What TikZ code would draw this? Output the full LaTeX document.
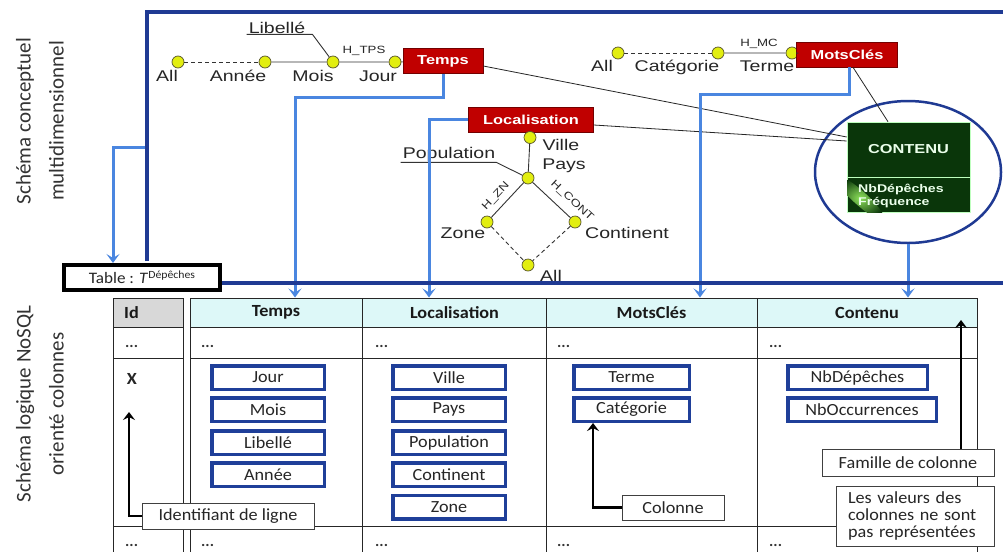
\documentclass[tikz,border=0pt]{standalone}
\usepackage{fontspec}
\setmainfont{Carlito}
\newfontfamily\arialw[FakeStretch=1.26]{Liberation Sans}
\newfontfamily\tabf[FakeStretch=1.07]{Carlito}
\usetikzlibrary{arrows.meta,shapes.geometric}

\definecolor{frameblue}{HTML}{1F3A93}
\definecolor{linkblue}{HTML}{4A86E0}
\definecolor{dimred}{HTML}{C00000}
\definecolor{factgreen}{HTML}{0A360A}
\definecolor{levelyellow}{HTML}{E2EE10}
\definecolor{headcyan}{HTML}{DDF8F8}
\definecolor{idgray}{HTML}{D8D8D8}
\definecolor{attrblue}{HTML}{1F3F99}
\definecolor{glow}{HTML}{8CE05A}

\tikzset{
  frame/.style={draw=frameblue, line width=3.5pt},
  link/.style={draw=linkblue, line width=3pt, -{Stealth[length=9pt,width=13pt,inset=4pt]}},
  hline/.style={draw=black!80, line width=0.9pt},
  hdash/.style={hline, dash pattern=on 4pt off 3pt},
  level/.style={circle, draw=black!50!olive, fill=levelyellow, line width=0.7pt, minimum size=12pt, inner sep=0pt},
  lbl/.style={font=\arialw\fontsize{15.5}{18}\selectfont, text=black!85, inner sep=1pt},
  hlab/.style={font=\arialw\fontsize{10.5}{12}\selectfont, text=black!85, inner sep=0pt},
  dimbox/.style={fill=dimred, draw=dimred!60!black, line width=0.6pt, text=white,
    font=\arialw\bfseries\fontsize{13}{14}\selectfont, minimum height=25pt, inner sep=0pt},
  grid/.style={draw=black!85, line width=1pt},
  colhead/.style={draw=black!85, line width=1pt, fill=headcyan, minimum height=29pt, inner sep=0pt,
    font=\tabf\bfseries\fontsize{17}{20}\selectfont, text=black!90},
  attr/.style={draw=attrblue, line width=3.5pt, fill=white, inner sep=0pt, minimum height=23.5pt,
    font=\tabf\fontsize{17}{20}\selectfont, text=black!85},
  note/.style={draw=black!75, line width=1pt, fill=white, inner sep=0pt,
    font=\tabf\fontsize{17}{20}\selectfont, text=black!85},
  notearrow/.style={draw=black, line width=2.5pt, -{Stealth[length=8pt,width=12pt,inset=3pt]}},
  dots/.style={font=\tabf\bfseries\fontsize{15}{16}\selectfont, text=black!80, inner sep=0pt, anchor=west},
  side/.style={font=\fontsize{21}{33}\selectfont, text=black!80, rotate=90, align=center}
}

\begin{document}
\begin{tikzpicture}[x=1pt,y=-1pt]
\useasboundingbox (0,0) rectangle (1003,552);
\fill[white] (0,0) rectangle (1003,552);

% side titles
\node[side] (titleTop) at (40,121) {Schéma conceptuel\\multidimensionnel};
\node[side] (titleBottom) at (40,404) {Schéma logique NoSQL\\orienté colonnes};

% ---------- conceptual schema ----------
% Temps hierarchy
\node[level] (tAll) at (178,62) {};
\node[level] (tAnnee) at (265,62) {};
\node[level] (tMois) at (333,62) {};
\node[level] (tJour) at (395,62) {};
\node[dimbox, minimum width=80pt] (temps) at (443,61) {Temps};
\draw[hdash] (tAll) -- (tAnnee);
\draw[hline] (tAnnee) -- (tMois) -- (tJour) -- (temps);
\node[lbl, anchor=base] (lbAll) at (167,81) {All};
\node[lbl, anchor=base] (lbAnnee) at (238,81) {Année};
\node[lbl, anchor=base] (lbMois) at (313,81) {Mois};
\node[lbl, anchor=base] (lbJour) at (378,81) {Jour};
\node[lbl, anchor=base] (libelle) at (277,33) {Libellé};
\draw[hline] ([xshift=-1pt]libelle.south west) -- ([xshift=6pt]libelle.south east) -- (tMois);
\node[hlab] (htps) at (364,51) {H\_TPS};

% MotsClés hierarchy
\node[level] (mAll) at (618,53) {};
\node[level] (mCat) at (718,53) {};
\node[level] (mTerme) at (792,53) {};
\node[dimbox, minimum width=101pt] (motscles) at (847,54.5) {MotsClés};
\draw[hdash] (mAll) -- (mCat);
\draw[hline] (mCat) -- (mTerme) -- (motscles);
\node[lbl, anchor=base] (lbmAll) at (602,71) {All};
\node[lbl, anchor=base] (lbCat) at (677,71) {Catégorie};
\node[lbl, anchor=base] (lbTerme) at (767,71) {Terme};
\node[hlab] (hmc) at (759,44) {H\_MC};

% Localisation hierarchy
\node[dimbox, minimum width=125pt] (loc) at (531,119.5) {Localisation};
\node[level] (lVille) at (530,137.5) {};
\node[level] (lPays) at (528,178) {};
\node[level] (lZone) at (487,222) {};
\node[level] (lCont) at (575,222) {};
\node[level] (lAll) at (528,265) {};
\draw[hline] (lVille) -- (lPays);
\draw[hline] (lPays) -- (lZone);
\draw[hline] (lPays) -- (lCont);
\draw[hdash] (lZone) -- (lAll);
\draw[hdash] (lCont) -- (lAll);
\node[lbl, anchor=base] (lbVille) at (561,150) {Ville};
\node[lbl, anchor=base] (lbPays) at (564,169) {Pays};
\node[lbl, anchor=base] (population) at (449,158) {Population};
\draw[hline] ([xshift=-1pt]population.south west) -- (population.south east) -- (lPays);
\node[lbl, anchor=base] (lbZone) at (463,238) {Zone};
\node[lbl, anchor=base] (lbCont) at (627,238) {Continent};
\node[lbl, anchor=base] (lblAll) at (551,281) {All};
\node[hlab, rotate=47] (hzn) at (496,196) {H\_ZN};
\node[hlab, rotate=-43] (hcont) at (572,201) {H\_CONT};

% fact
\node[draw=frameblue, line width=2.5pt, ellipse, minimum width=186pt, minimum height=142pt, inner sep=0pt] (factCircle) at (908,172) {};
\node[fill=factgreen, draw=white!75!green, line width=0.6pt, minimum width=123pt, minimum height=55pt, inner sep=0pt,
  text=white!92!green, font=\arialw\bfseries\fontsize{13}{14}\selectfont] (contenu) at (908.5,149.5) {CONTENU};
\node[fill=factgreen, draw=white!75!green, line width=0.6pt, minimum width=123pt, minimum height=35pt, inner sep=0pt] (measures) at (908.5,195) {};
\begin{scope}
  \clip (847.5,177.5) rectangle (969.5,212.5);
  \shade[inner color=glow, outer color=factgreen, rotate around={-42:(860,198)}] (860,198) ellipse [x radius=32, y radius=7];
\end{scope}
\node[anchor=west, align=left, inner sep=0pt, text=white!92!green,
  font=\arialw\bfseries\fontsize{11.2}{13}\selectfont] (measuresText) at (858,196) {NbDépêches\\Fréquence};

% links from dimensions to fact
\draw[black!85, line width=0.8pt] ([yshift=-5pt]temps.east) -- ([yshift=12.5pt]contenu.west);
\draw[black!85, line width=0.8pt] ([yshift=-5.5pt]loc.east) -- ([yshift=8.5pt]contenu.west);
\draw[black!85, line width=0.8pt] ([xshift=6pt]motscles.south) -- ([xshift=-20.5pt]contenu.north);

% ---------- column-oriented table ----------
% header cells
\node[draw=black!85, line width=1pt, fill=idgray, minimum width=70pt, minimum height=29pt, inner sep=0pt] (hId) at (148,312.5) {};
\node[anchor=west, inner sep=0pt, font=\tabf\bfseries\fontsize{17}{20}\selectfont, text=black!90] (idText) at (124,312.5) {Id};
\node[colhead, minimum width=172pt] (hTemps) at (276,312.5) {Temps};
\node[colhead, minimum width=184pt] (hLoc) at (454.5,312.5) {Localisation};
\node[colhead, minimum width=211pt] (hMots) at (651.5,312.5) {MotsClés};
\node[colhead, minimum width=220pt] (hCont) at (867,312.5) {Contenu};

% grid
\foreach \gx in {113,183,190,362,546,757,977} {\draw[grid] (\gx,298) -- (\gx,552);}
\foreach \gy in {327,358,526} {
  \draw[grid] (113,\gy) -- (183,\gy);
  \draw[grid] (190,\gy) -- (977,\gy);
}

% elided rows
\foreach \gx/\nm in {125/a,201/b,375/c,557/d,769/e} {
  \node[dots] (dotsTop\nm) at (\gx,346) {...};
  \node[dots] (dotsBot\nm) at (\gx,545) {...};
}
\node[inner sep=0pt, font=\tabf\bfseries\fontsize{17}{20}\selectfont, text=black!85] (rowX) at (132,379) {X};

% columns
\node[attr, minimum width=112.5pt] (cJour) at (268,377.5) {Jour};
\node[attr, minimum width=112.5pt] (cMois) at (268,409.5) {Mois};
\node[attr, minimum width=112.5pt] (cLibelle) at (268,442.5) {Libellé};
\node[attr, minimum width=112.5pt] (cAnnee) at (268,474.5) {Année};
\node[attr, minimum width=112.5pt] (cVille) at (449,377.5) {Ville};
\node[attr, minimum width=112.5pt] (cPays) at (449,409.5) {Pays};
\node[attr, minimum width=112.5pt] (cPop) at (449,442.5) {Population};
\node[attr, minimum width=112.5pt] (cCont) at (449,474.5) {Continent};
\node[attr, minimum width=112.5pt] (cZone) at (449,507) {Zone};
\node[attr, minimum width=115.5pt] (cTerme) at (631.5,377.5) {Terme};
\node[attr, minimum width=115.5pt] (cCat) at (631.5,409.5) {Catégorie};
\node[attr, minimum width=139.5pt] (cNbD) at (857.5,377.5) {NbDépêches};
\node[attr, minimum width=148.5pt] (cNbO) at (862,409.5) {NbOccurrences};

% annotations
\node[note, minimum width=172pt, minimum height=26pt] (idnote) at (228,516) {Identifiant de ligne};
\node[note, minimum width=102pt, minimum height=25pt] (colnote) at (673,507.5) {Colonne};
\node[note, minimum width=172pt, minimum height=27pt] (famnote) at (908,462.5) {Famille de colonne};
\node[note, minimum width=158pt, minimum height=60pt, align=left, text width=134pt, inner xsep=12pt,
  font=\tabf\fontsize{17}{17}\selectfont] (valnote) at (915,516) {Les valeurs des\\colonnes ne sont\\pas représentées};
\coordinate (idTip) at (129,412);
\coordinate (famTip) at (961,320);
\draw[notearrow] (idnote.west) -| (idTip);
\draw[notearrow] (colnote.west) -| ([xshift=-38.5pt]cCat.south);
\draw[notearrow] ([xshift=53pt]famnote.north) -- (famTip);

% table name
\node[draw=black, line width=4pt, fill=white, minimum width=156pt, minimum height=25pt, inner sep=0pt,
  font=\tabf\fontsize{16}{17}\selectfont, text=black!85] (tablebox) at (142,277.5)
  {Table : \textit{T}\raisebox{5pt}{\fontsize{11}{12}\selectfont Dépêches}};

% links from the conceptual schema to the table
\coordinate (frameTap) at (147,147);
\draw[link] (frameTap) -| ([xshift=-29pt]tablebox.north);
\draw[link] (temps.south) -- ++(0,24) -| ([xshift=19pt]hTemps.north);
\draw[link] (loc.west) -| ([xshift=-25.5pt]hLoc.north);
\draw[link] ([xshift=2pt]motscles.south) -- ++(0,27) -| ([xshift=48.5pt]hMots.north);
\draw[link] (factCircle.south) -- (factCircle.south |- hCont.north);

% frame of the conceptual schema
\draw[frame] (147,261) -- (147,12) -- (1003,12);
\draw[frame] (tablebox.east |- 0,283) -- (1003,283);
\end{tikzpicture}
\end{document}
